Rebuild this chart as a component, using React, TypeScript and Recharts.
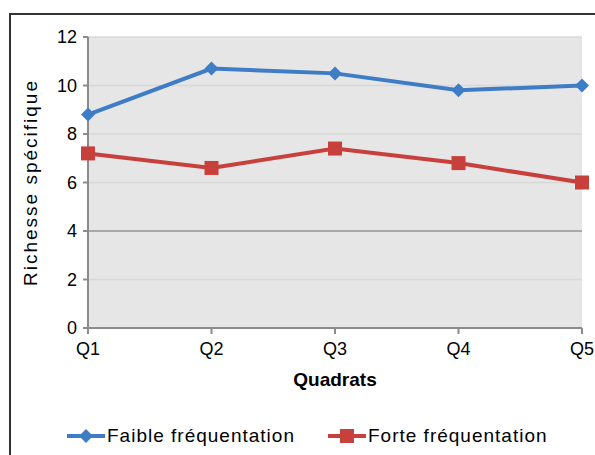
import { CartesianGrid, Line, LineChart, ReferenceLine, XAxis, YAxis } from 'recharts'

const QUADRATS = ['Q1', 'Q2', 'Q3', 'Q4', 'Q5']
const FAIBLE = [8.8, 10.7, 10.5, 9.8, 10.0]
const FORTE = [7.2, 6.6, 7.4, 6.8, 6.0]
const Y_TICKS = [0, 2, 4, 6, 8, 10, 12]

const COLOR_BLUE = '#3f7cc6'
const COLOR_RED = '#c8403c'
const COLOR_AXIS = '#8c8c8c'
const FONT = '"Liberation Sans", Arial, sans-serif'

const data = QUADRATS.map((q, i) => ({ q, faible: FAIBLE[i], forte: FORTE[i] }))

function Diamond(props: any) {
  const { cx, cy } = props
  if (cx == null || cy == null) return null
  const s = 7
  return <path d={`M${cx},${cy - s}L${cx + s},${cy}L${cx},${cy + s}L${cx - s},${cy}Z`} fill={COLOR_BLUE} />
}

function Square(props: any) {
  const { cx, cy } = props
  if (cx == null || cy == null) return null
  const s = 7
  return <rect x={cx - s} y={cy - s} width={s * 2} height={s * 2} fill={COLOR_RED} />
}

function YTitle(props: any) {
  const vb = props.viewBox || {}
  const x = 30
  const y = vb.y + vb.height / 2
  return (
    <text x={x} y={y} transform={`rotate(-90 ${x} ${y})`} textAnchor="middle" dominantBaseline="central"
      style={{ fontFamily: FONT, fontSize: 19, fill: '#000', letterSpacing: 2 }}>
      Richesse spécifique
    </text>
  )
}

function LegendItem({ color, label, square }: { color: string; label: string; square?: boolean }) {
  return (
    <div style={{ display: 'flex', alignItems: 'center' }}>
      <svg width={38} height={16}>
        <line x1={0} y1={8} x2={38} y2={8} stroke={color} strokeWidth={4} />
        {square ? <rect x={12} y={1} width={14} height={14} fill={color} /> : <path d="M19,1L26,8L19,15L12,8Z" fill={color} />}
      </svg>
      <span style={{ fontFamily: FONT, fontSize: 19, color: '#000', marginLeft: 2, letterSpacing: 1 }}>{label}</span>
    </div>
  )
}

export default function App() {
  return (
    <div style={{ position: 'absolute', left: 0, top: 0, width: 595, height: 455, overflow: 'hidden', background: '#fff' }}>
      <div style={{ position: 'absolute', left: 9, top: 13, width: 620, height: 480, border: '2px solid #333' }} />
      <div style={{ position: 'absolute', left: 0, top: 0 }}>
        <LineChart width={595} height={455} data={data} margin={{ top: 37, right: 13, bottom: 67, left: 28 }}>
          <CartesianGrid vertical={false} stroke="#d8d8d8" strokeWidth={1.5} fill="#e6e6e6" />
          <XAxis
            dataKey="q"
            height={60}
            stroke={COLOR_AXIS}
            strokeWidth={2}
            tickSize={6}
            tickMargin={8}
            tick={{ fontSize: 18, fill: '#000', fontFamily: FONT }}
            interval={0}
            label={{ value: 'Quadrats', position: 'insideBottom', offset: 2, style: { fontSize: 19, fontWeight: 'bold', fill: '#000', fontFamily: FONT } }}
          />
          <YAxis
            width={60}
            domain={[0, 12]}
            ticks={Y_TICKS}
            stroke={COLOR_AXIS}
            strokeWidth={2}
            tickSize={5}
            tickMargin={6}
            tick={{ fontSize: 18, fill: '#000', fontFamily: FONT }}
            label={<YTitle />}
          />
          <ReferenceLine y={4} stroke="#a8a8a8" strokeWidth={2} />
          <Line dataKey="faible" stroke={COLOR_BLUE} strokeWidth={4} dot={<Diamond />} activeDot={false} isAnimationActive={false} />
          <Line dataKey="forte" stroke={COLOR_RED} strokeWidth={4} dot={<Square />} activeDot={false} isAnimationActive={false} />
        </LineChart>
      </div>
      <div style={{ position: 'absolute', left: 67, top: 425 }}>
        <LegendItem color={COLOR_BLUE} label="Faible fréquentation" />
      </div>
      <div style={{ position: 'absolute', left: 328, top: 425 }}>
        <LegendItem color={COLOR_RED} label="Forte fréquentation" square />
      </div>
    </div>
  )
}
